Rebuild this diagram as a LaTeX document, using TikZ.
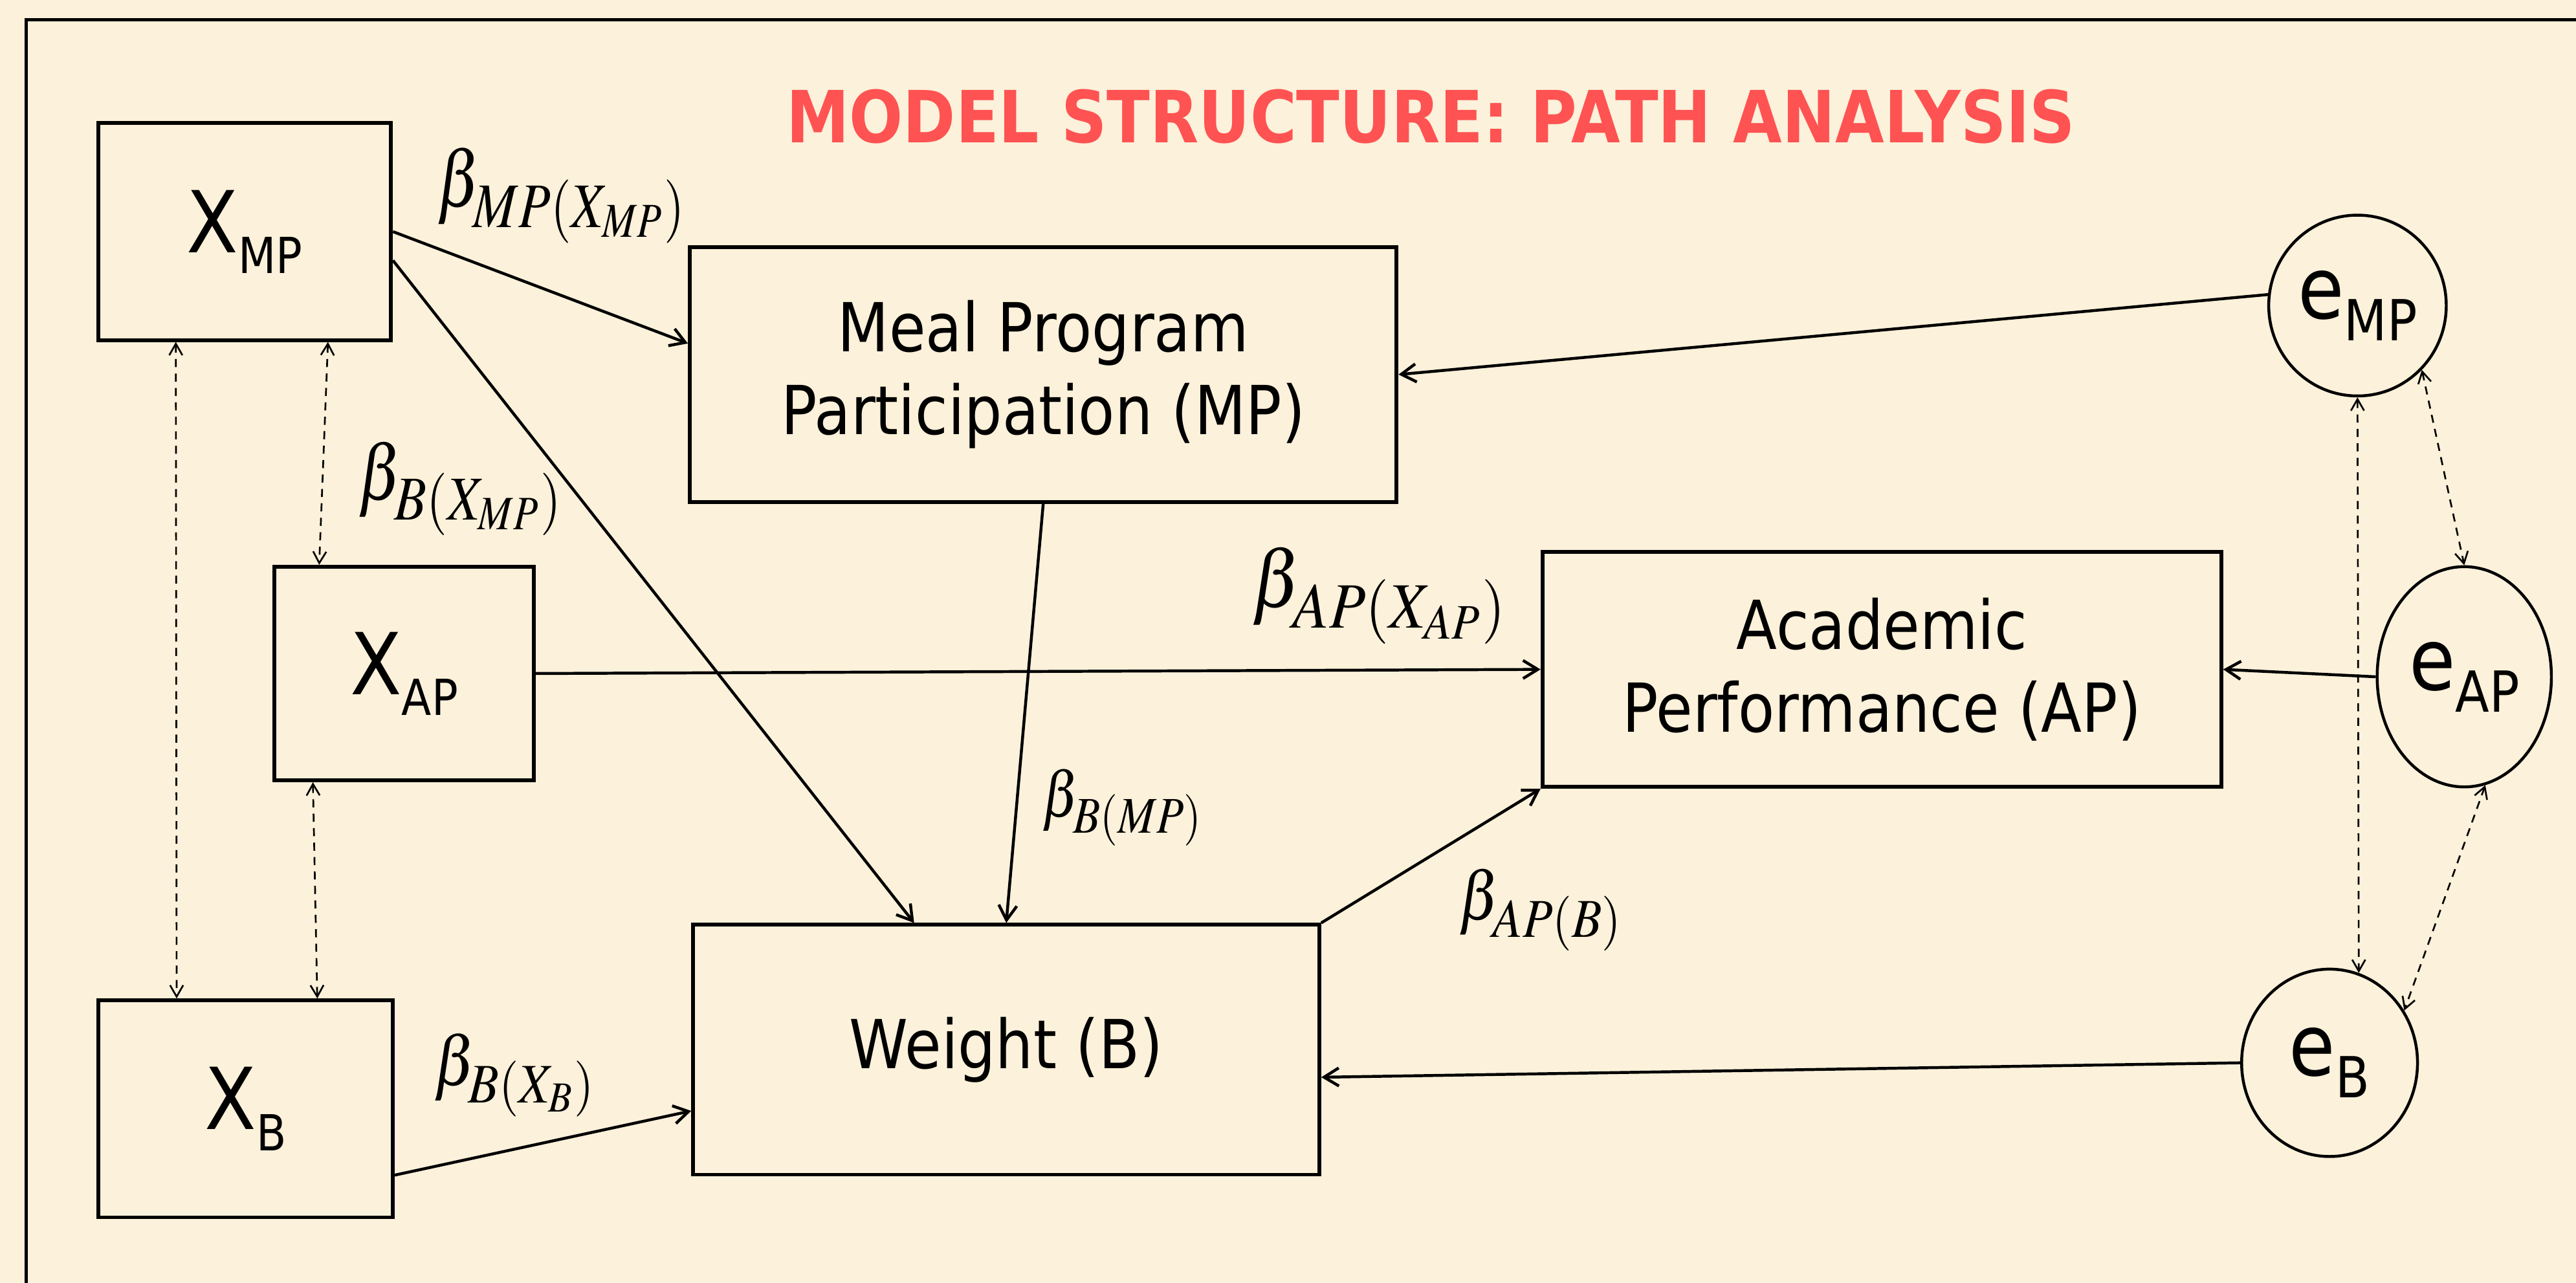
\documentclass[tikz,border=0pt]{standalone}
\usepackage{mathptmx}
\usepackage{graphicx}
\usepackage[no-math]{fontspec}
\setmainfont{DejaVu Sans}[FakeStretch=0.88]
\usetikzlibrary{arrows.meta,shapes.geometric}
\DeclareMathSizes{14}{14}{11.2}{8.6}

\definecolor{parchment}{RGB}{252,241,218}
\definecolor{titlered}{RGB}{255,82,82}

% variable names: big letter, lowered small index
\newcommand{\varname}[2]{{\fontsize{14.8}{16}\selectfont #1}\raisebox{-3.6pt}{\fontsize{8.6}{10}\selectfont #2}}
\newcommand{\errname}[1]{{\fontsize{14.8}{16}\selectfont e}\raisebox{-3.8pt}{\fontsize{9.8}{11}\selectfont #1}}
% path coefficients, squeezed to a given width and height
\newcommand{\coefbox}[3]{\resizebox*{#1}{#2}{$#3$}}

\tikzset{
	obs/.style={draw, line width=0.65pt, rectangle, inner sep=0pt, align=center, font=\fontsize{11.7}{14.4}\selectfont},
	err/.style={draw, line width=0.5pt, ellipse, inner sep=0pt},
	effect/.style={line width=0.5pt, -{Straight Barb[length=0.9mm,width=1.1mm]}},
	corr/.style={line width=0.3pt, dash pattern=on 1.4pt off 1.1pt, {Straight Barb[length=0.7mm,width=0.8mm]}-{Straight Barb[length=0.7mm,width=0.8mm]}},
	coef/.style={inner sep=0pt, font=\fontsize{14}{16}\selectfont}
}

\begin{document}
\begin{tikzpicture}[x=0.01cm, y=-0.01cm]
	\fill[parchment] (0,0) rectangle (1568,781);
	\useasboundingbox (0,0) rectangle (1568,781);
	\draw[line width=0.57pt] (1568,12) -- (16,12) -- (16,781);
	%
	\node[text=titlered, font=\bfseries\fontsize{12.45}{14}\selectfont] (title) at (871,71) {MODEL STRUCTURE: PATH ANALYSIS};
	%
	% exogenous variables
	\node[obs, minimum width=1.78cm, minimum height=1.32cm] (xmp) at (149,141) {\varname{X}{MP}};
	\node[obs, minimum width=1.58cm, minimum height=1.30cm] (xap) at (246,410) {\varname{X}{AP}};
	\node[obs, minimum width=1.79cm, minimum height=1.32cm] (xb) at (149.5,675) {\varname{X}{B}};
	% endogenous variables
	\node[obs, minimum width=4.30cm, minimum height=1.55cm] (mp) at (635,228) {Meal Program\\Participation (MP)};
	\node[obs, minimum width=4.13cm, minimum height=1.43cm] (ap) at (1145.5,407.5) {Academic\\Performance (AP)};
	\node[obs, minimum width=3.81cm, minimum height=1.52cm] (b) at (612.5,639) {Weight (B)};
	% errors
	\node[err, minimum width=1.08cm, minimum height=1.10cm] (emp) at (1435,186) {\errname{MP}};
	\node[err, minimum width=1.06cm, minimum height=1.34cm] (eap) at (1500,412) {\errname{AP}};
	\node[err, minimum width=1.07cm, minimum height=1.14cm] (eb) at (1418,647) {\errname{B}};
	%
	\draw[effect] (xmp.east) -- (mp.175);
	\draw[effect] (xmp.-11) -- (b.126);
	\draw[effect] (mp.south) -- (b.north);
	\draw[effect] (xap.east) -- (ap.west);
	\draw[effect] (b.north east) -- (ap.south west);
	\draw[effect] (xb.-24) -- (b.191);
	\draw[effect] (emp.173) -- (mp.east);
	\draw[effect] (eap.west) -- (ap.east);
	\draw[effect] (eb.west) -- (b.-5);
	%
	\foreach \a/\b in {xmp.-122/xb.122, xmp.-53/xap.128, xap.-130/xb.57, emp.south/eb.72, emp.-45/eap.north, eap.-79/eb.35}
		\draw[corr] (\a) -- (\b);
	%
	\node[coef] (cmpx) at (342,119) {\coefbox{1.52cm}{0.58cm}{\beta_{MP(X_{MP})}}};
	\node[coef] (cbx) at (280.5,297.5) {\coefbox{1.25cm}{0.57cm}{\beta_{B(X_{MP})}}};
	\node[coef] (cbmp) at (683.5,491.5) {\coefbox{0.98cm}{0.47cm}{\beta_{B(MP)}}};
	\node[coef] (capx) at (840,362.5) {\coefbox{1.56cm}{0.59cm}{\beta_{AP(X_{AP})}}};
	\node[coef] (capb) at (938,554) {\coefbox{1.00cm}{0.50cm}{\beta_{AP(B)}}};
	\node[coef] (cbxb) at (313.5,654.5) {\coefbox{0.99cm}{0.51cm}{\beta_{B(X_B)}}};
\end{tikzpicture}
\end{document}
